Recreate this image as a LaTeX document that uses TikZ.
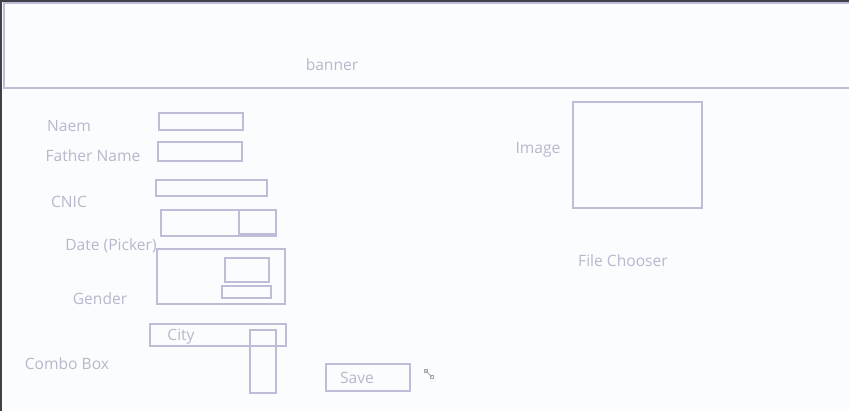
\documentclass[tikz,border=0pt]{standalone}
\usepackage{fontspec}
\setmainfont{Open Sans}
\definecolor{bg}{HTML}{FAFCFE}
\definecolor{ln}{HTML}{BDBDD8}
\definecolor{tx}{HTML}{B5B9CB}
\definecolor{edge}{HTML}{40404A}
\begin{document}
\begin{tikzpicture}[x=1pt,y=-1pt,
  lbl/.style={text=tx,font=\fontsize{15.6}{17}\selectfont,inner sep=0pt,anchor=center,yshift=-1.6pt},
  wbox/.style={draw=ln,line width=2pt},
]
\useasboundingbox (0,0) rectangle (849,411);
\fill[bg] (0,0) rectangle (849,411);
\draw[edge,line width=1.6pt] (0.8,411) -- (0.8,0.8) -- (849,0.8);
% banner
\draw[wbox] (4,3) rectangle (855,88);
\node[lbl] (banner) at (332,63) {banner};
% Name
\node[lbl] (naem) at (69,124) {Naem};
\draw[wbox] (159,113) rectangle (243,130);
% Father name
\node[lbl] (father) at (93,154) {Father Name};
\draw[wbox] (158,142) rectangle (242,161);
% CNIC
\node[lbl] (cnic) at (69,200) {CNIC};
\draw[wbox] (156,180) rectangle (267,196);
% Date picker
\node[lbl] (date) at (111,244) {Date (Picker)};
\draw[wbox] (161,210) rectangle (276,236);
\draw[wbox] (239,210) rectangle (276,234);
% Gender
\node[lbl] (gender) at (100,297) {Gender};
\draw[wbox] (157,249) rectangle (285,304);
\draw[wbox] (225,258) rectangle (269,282);
\draw[wbox] (222,286) rectangle (271,298);
% City combo
\draw[wbox] (150,324) rectangle (286,346);
\node[lbl] (city) at (181,335) {City};
\draw[wbox] (250,330) rectangle (276,393);
\node[lbl] (combo) at (67,362) {Combo Box};
% Save
\draw[wbox] (326,364) rectangle (410,391);
\node[lbl] (save) at (357,376) {Save};
% Image
\node[lbl] (image) at (538,148) {Image};
\draw[wbox] (573,102) rectangle (702,208);
\node[lbl] (file) at (623,259) {File Chooser};
% cursor
\draw[gray!70,line width=0.8pt] (425.5,370.5) -- (431.5,376.5);
\draw[gray!70,line width=0.6pt] (424,369) rectangle (427,372);
\draw[gray!70,line width=0.6pt] (430,375) rectangle (433,378);
\end{tikzpicture}
\end{document}
